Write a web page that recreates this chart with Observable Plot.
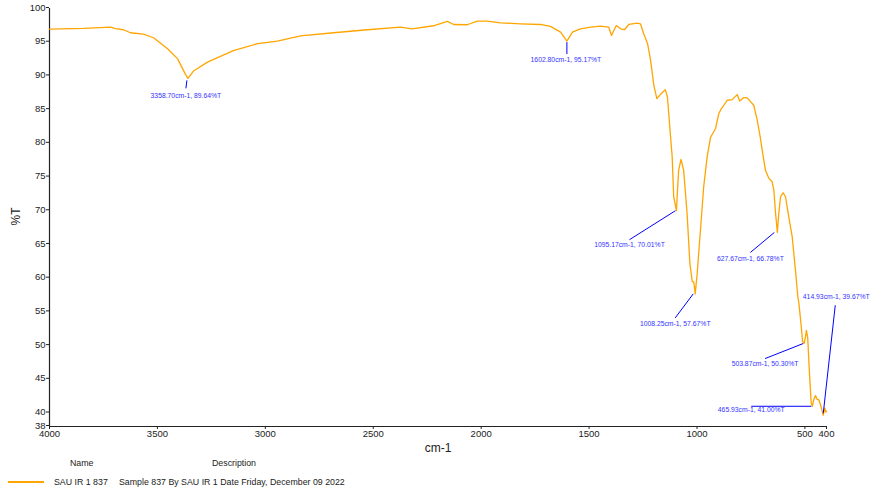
<!DOCTYPE html>
<html><head><meta charset="utf-8">
<script src="https://cdn.jsdelivr.net/npm/d3@7"></script>
<script src="https://cdn.jsdelivr.net/npm/@observablehq/plot@0.6"></script>
<style>
body{margin:0;background:#fff;}
#wrap{position:relative;width:870px;height:492px;overflow:hidden;font-family:"Liberation Sans",Arial,sans-serif;color:#222;}
#legend{position:absolute;left:0;top:456px;width:870px;height:36px;font-size:8.8px;}
#legend span{position:absolute;white-space:nowrap;line-height:12px;}
#legend .swatch{position:absolute;left:8px;top:25px;width:36px;height:1.5px;background:#ffa500;}
</style></head><body>
<div id="wrap"><div id="chart"></div><div id="legend"></div></div>
<script>
// ---- data ----
const wavenumber = [
  4000, 3842, 3717, 3694, 3657, 3625, 3565, 3518, 3453, 3407,
  3370, 3358.7, 3333, 3268, 3148, 3036, 2944, 2837, 2684, 2527,
  2374, 2320, 2221, 2157, 2127, 2065, 2018, 1972, 1910, 1818,
  1725, 1679, 1632, 1602.8, 1577, 1540, 1493, 1447, 1409, 1396,
  1374, 1354, 1336, 1316, 1277, 1262, 1247, 1229, 1215, 1200,
  1186, 1169, 1147, 1137, 1123, 1115, 1108, 1095.2, 1092, 1085,
  1074, 1062, 1046, 1033, 1022, 1015, 1008.3, 999, 984, 969,
  953, 937, 914, 899, 891, 860, 837, 814, 802, 783,
  771, 760, 737, 721, 706, 698, 683, 667, 652, 644,
  636, 627.7, 621, 613, 601, 590, 575, 559, 544, 533,
  528, 517, 511, 503.9, 497, 493, 487, 479, 471, 465.9,
  459, 451, 443, 436, 428, 414.9, 408, 403, 400
];
const transmittance = [
  96.94, 97.04, 97.23, 97.0, 96.85, 96.40, 96.20, 95.66, 94.04, 92.56,
  90.23, 89.64, 90.72, 92.05, 93.74, 94.78, 95.16, 95.93, 96.40, 96.85,
  97.23, 96.99, 97.44, 98.08, 97.63, 97.59, 98.12, 98.12, 97.88, 97.73,
  97.63, 97.34, 96.49, 95.17, 96.49, 96.99, 97.23, 97.38, 97.23, 96.0,
  97.48, 96.99, 96.85, 97.63, 97.82, 97.73, 96.25, 94.78, 92.30, 88.61,
  86.64, 87.27, 87.97, 86.88, 81.21, 78.0, 72.08, 70.01, 72.08, 76.03,
  77.61, 76.03, 69.62, 62.22, 59.50, 59.45, 57.67, 60.74, 67.15, 73.56,
  78.0, 80.91, 82.20, 84.42, 84.91, 86.39, 86.49, 87.23, 86.28, 86.79,
  86.79, 86.49, 85.65, 83.43, 80.72, 78.99, 76.03, 74.80, 74.30, 73.07,
  69.62, 66.78, 69.62, 72.08, 72.67, 72.08, 69.12, 66.16, 61.23, 57.28,
  56.30, 52.84, 50.62, 50.30, 51.36, 52.25, 51.13, 45.95, 41.51, 41.00,
  42.0, 42.59, 42.0, 42.0, 41.26, 39.67, 40.77, 40.12, 40.3
];
const peakWavenumber = [3358.70, 1602.80, 1095.17, 1008.25, 627.67, 503.87, 465.93, 414.93];
const peakTransmittance = [89.64, 95.17, 70.01, 57.67, 66.78, 50.30, 41.00, 39.67];
const xTicks = [4000, 3500, 3000, 2500, 2000, 1500, 1000, 500, 400];
const yTicks = [38, 40, 45, 50, 55, 60, 65, 70, 75, 80, 85, 90, 95, 100];
const xDomain = [4000, 400];
const yDomain = [38, 100];
const xLabel = "cm-1";
const yLabel = "%T";
const legendName = "SAU IR 1 837";
const legendDescription = "Sample 837 By SAU IR 1 Date Friday, December 09 2022";

// ---- layout ----
const W = 870, H = 456, ML = 49, MR = 44, MT = 8, MB = 30;
const xs = d3.scaleLinear(xDomain, [ML, W - MR]);
const ys = d3.scaleLinear(yDomain, [H - MB, MT]);
// leader-line pixel offsets from each peak: start, end, label centre (relative to end)
const leaderLayout = [
  {s: [-1, 2], e: [-2, 10], t: [0, 7]},
  {s: [0, 1], e: [0, 13], t: [-1, 6]},
  {s: [-1, 0], e: [-47, 29], t: [0, 5]},
  {s: [-2, 0], e: [-20, 24], t: [0, 6]},
  {s: [-3, 0], e: [-27, 20], t: [0, 6]},
  {s: [-1, 0], e: [-39, 15], t: [0, 5]},
  {s: [-1, 0], e: [-61, 0], t: [0, 4]},
  {s: [0, -2], e: [12, -110], t: [1, -8]}
];

const spectrum = wavenumber.map((w, i) => ({w, t: transmittance[i]}));
const annot = peakWavenumber.map((w, i) => {
  const px = xs(w), py = ys(peakTransmittance[i]);
  const L = leaderLayout[i];
  const ex = px + L.e[0], ey = py + L.e[1];
  return {
    x1: xs.invert(px + L.s[0]), y1: ys.invert(py + L.s[1]),
    x2: xs.invert(ex), y2: ys.invert(ey),
    tx: xs.invert(ex + L.t[0]), ty: ys.invert(ey + L.t[1]),
    label: `${w.toFixed(2)}cm-1, ${peakTransmittance[i].toFixed(2)}%T`
  };
});

const font = '"Liberation Sans",Arial,sans-serif';
const chart = Plot.plot({
  width: W, height: H,
  marginLeft: ML, marginRight: MR, marginTop: MT, marginBottom: MB,
  x: {domain: xDomain},
  y: {domain: yDomain},
  style: {fontFamily: font, fontSize: "9.5px", color: "#222", background: "#fff"},
  marks: [
    Plot.ruleX([xDomain[0]], {y1: yDomain[0], y2: yDomain[1], stroke: "#222", strokeWidth: 1.2}),
    Plot.ruleY([yDomain[0]], {x1: xDomain[0], x2: xDomain[1], stroke: "#222", strokeWidth: 1.2}),
    Plot.axisY({ticks: yTicks, tickSize: 3, tickPadding: 1, label: null, fontSize: 9.5, dy: -1}),
    Plot.axisX({ticks: xTicks, tickSize: 3, tickPadding: 1, label: null, fontSize: 9.5, tickFormat: d => String(d)}),
    Plot.line(spectrum, {x: "w", y: "t", stroke: "#ffa500", strokeWidth: 1.3}),
    Plot.link(annot, {x1: "x1", y1: "y1", x2: "x2", y2: "y2", stroke: "#0000ff", strokeWidth: 1}),
    Plot.text(annot, {x: "tx", y: "ty", text: "label", fill: "#3434ff", fontSize: 6.8, textAnchor: "middle", lineAnchor: "middle"}),
    Plot.text([yLabel], {text: d => d, frameAnchor: "left", dx: -33, dy: 8, rotate: -90, fontSize: 12, fill: "#222"}),
    Plot.text([xLabel], {text: d => d, frameAnchor: "bottom", dy: 25, fontSize: 12, fill: "#222"})
  ]
});
document.getElementById("chart").appendChild(chart);

// ---- legend ----
const lg = document.getElementById("legend");
lg.innerHTML = `
  <span style="left:70px;top:1px">Name</span>
  <span style="left:212px;top:1px">Description</span>
  <div class="swatch"></div>
  <span style="left:54px;top:20px">${legendName}</span>
  <span style="left:119px;top:20px">${legendDescription}</span>`;
</script>
</body></html>
